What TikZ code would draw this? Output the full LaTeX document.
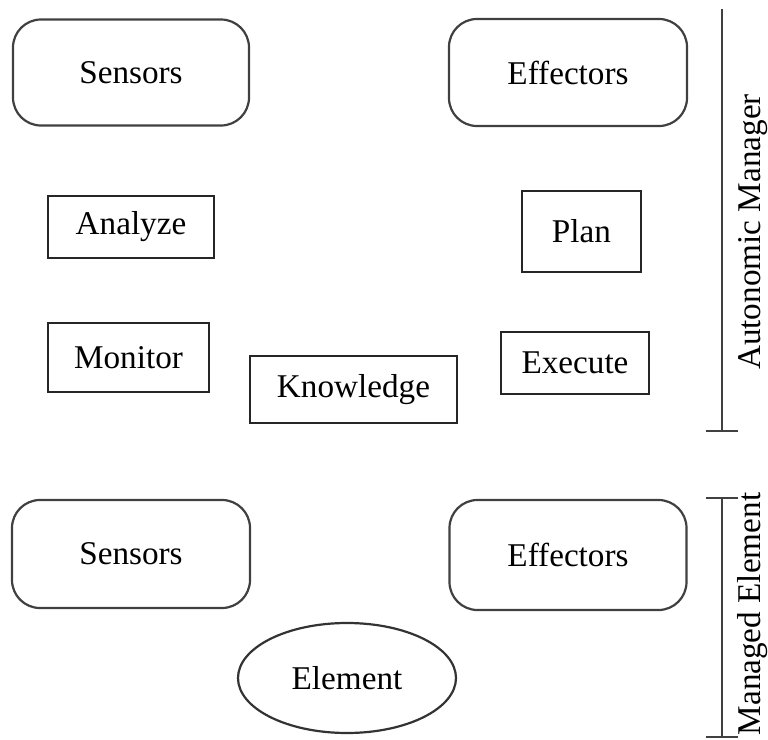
\documentclass[tikz,border=0pt]{standalone}
\usepackage{fontspec}
\setmainfont{Liberation Serif}
\usetikzlibrary{shapes.geometric}

\begin{document}
\begin{tikzpicture}[
    x = 0.5pt, y = -0.5pt,
    line width = 1.1pt,
    every node/.style = {font = \fontsize{16.6}{19}\selectfont, inner sep = 0pt},
    port/.style = {rectangle,
      draw = black!75,
      rounded corners = 14pt},
    phase/.style = {rectangle,
      draw = black!85},
    resource/.style = {ellipse,
      draw = black!80}
    ]
    \useasboundingbox (0, 0) rectangle (768, 740);

    % autonomic manager
    \node at (131, 72.5) [port, minimum width = 118pt, minimum height = 53pt, name = S1] {Sensors};
    \node at (568, 72.5) [port, minimum width = 119pt, minimum height = 53.5pt, name = E1] {Effectors};
    \node at (131, 227) [phase, minimum width = 83pt, minimum height = 31pt, name = A] {Analyze};
    \node at (581.5, 231.5) [phase, minimum width = 59.5pt, minimum height = 40.5pt, name = P] {Plan};
    \node at (128.5, 357.5) [phase, minimum width = 80.5pt, minimum height = 34.5pt, name = M] {Monitor};
    \node at (575, 363) [phase, minimum width = 74pt, minimum height = 31pt, name = X] {Execute};
    \node at (353.5, 389.5) [phase, minimum width = 103.5pt, minimum height = 33.5pt, name = K] {Knowledge};

    % managed element
    \node at (131, 554) [port, minimum width = 119pt, minimum height = 54pt, name = S2] {Sensors};
    \node at (568, 555) [port, minimum width = 118.5pt, minimum height = 55pt, name = E2] {Effectors};
    \node at (347, 678) [resource, minimum width = 109pt, minimum height = 55pt, name = El] {Element};

    % brackets
    \coordinate (amtop) at (722, 9);
    \coordinate (ambot) at (722, 431);
    \coordinate (metop) at (722, 498);
    \coordinate (mebot) at (722, 737);
    \draw [black!75] (amtop) -- (ambot);
    \draw [black!75] ([xshift = -8pt] ambot) -- ([xshift = 8pt] ambot);
    \draw [black!75] (metop) -- (mebot);
    \draw [black!75] ([xshift = -8pt] metop) -- ([xshift = 8pt] metop);
    \draw [black!75] ([xshift = -8pt] mebot) -- ([xshift = 8pt] mebot);

    \node at (753, 232) [rotate = 90, name = AM] {Autonomic Manager};
    \node at (753, 614) [rotate = 90, name = ME] {Managed Element};

  \end{tikzpicture}
\end{document}
